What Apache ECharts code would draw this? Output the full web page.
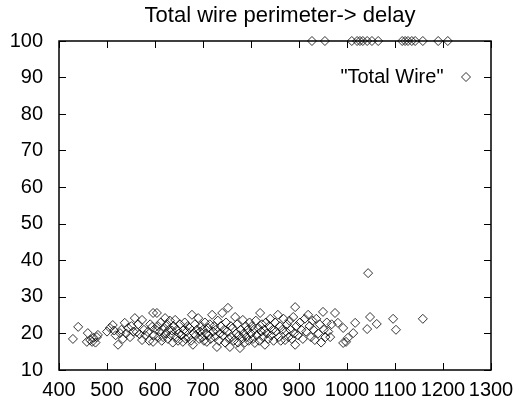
<!DOCTYPE html>
<html><head><meta charset="utf-8">
<script src="https://cdn.jsdelivr.net/npm/echarts@6/dist/echarts.min.js"></script>
<style>html,body{margin:0;padding:0;background:#fff}#c{width:517px;height:402px}</style>
</head><body><div id="c"></div>
<script>
var xTicks = [400,500,600,700,800,900,1000,1100,1200,1300];
var yTicks = [10,20,30,40,50,60,70,80,90,100];
var seriesName = '"Total Wire"';
var wirePerimeter = [
429,440,458,460,465,469,472,479,481,476,
500,506,512,515,518,523,527,530,533,537,540,544,548,551,555,558,562,565,568,573,573,577,580,585,588,590,594,596,596,598,
602,604,606,608,610,612,614,617,619,621,623,625,627,629,631,633,635,637,639,642,644,646,648,650,652,655,658,660,662,664,666,668,670,672,675,677,679,681,683,685,687,690,692,694,696,698,
700,702,704,706,708,710,712,714,716,719,721,723,725,727,729,731,733,735,737,740,742,744,746,748,750,752,754,756,758,760,762,764,767,769,771,773,775,777,779,781,783,785,787,789,791,793,795,797,
800,802,804,806,808,810,812,815,817,819,821,823,825,827,829,831,833,836,838,840,842,845,847,850,852,856,858,860,862,865,868,871,873,875,878,880,882,885,888,890,892,892,895,
898,902,905,908,912,915,919,922,925,928,930,933,936,940,943,946,950,952,955,958,961,965,968,975,981,992,992,998,1002,1013,1017,1042,1048,1062,1044,1096,1102,1158,
927,954,1010,1021,1027,1033,1042,1052,1065,1115,1121,1127,1135,1142,1158,1190,1210
];
var delay = [
18.5,21.8,17.7,20.1,18.2,17.7,18.8,19.0,19.6,17.5,
20.5,21.5,22.3,20.8,19.5,16.9,20.1,21.0,18.5,22.9,20.0,21.5,19.0,22.0,20.5,24.2,20.4,22.5,19.8,23.7,18.2,21.0,19.5,20.4,18.0,22.5,21.8,25.6,17.7,19.5,
21.0,25.6,22.0,19.0,20.5,23.0,18.0,19.0,21.5,24.2,20.0,22.5,18.5,21.0,23.5,19.5,20.8,17.5,22.0,23.7,19.0,21.0,18.0,20.0,22.5,19.5,17.7,21.0,23.0,18.5,20.5,22.0,19.0,21.5,18.0,25.1,16.9,20.0,22.5,19.5,21.0,24.2,18.5,20.5,22.0,19.0,
21.0,18.0,23.0,20.0,17.7,21.5,19.5,22.5,18.5,25.1,20.5,22.0,19.0,21.0,16.3,23.5,18.0,20.0,22.0,25.6,19.5,21.0,17.5,23.0,20.5,27.0,18.5,16.3,22.0,19.0,21.5,18.0,24.5,20.0,22.5,17.5,19.5,16.0,21.0,18.5,23.7,20.0,17.5,22.0,19.0,21.0,18.0,23.0,
20.0,22.0,18.5,21.0,17.4,23.5,19.5,21.5,18.0,25.6,20.5,22.5,19.0,21.0,16.9,23.0,20.0,18.5,22.0,24.0,19.5,21.0,18.0,23.0,20.5,25.1,19.0,22.0,18.0,21.0,24.0,18.2,20.5,22.5,19.0,23.5,21.0,18.5,24.5,20.0,27.2,16.9,22.0,
19.5,23.0,21.0,18.5,24.0,20.5,25.1,22.0,19.0,23.5,21.0,18.2,24.0,20.0,22.5,17.5,25.9,21.0,19.0,23.0,20.5,19.0,22.5,25.6,22.9,17.4,21.5,17.7,18.8,20.1,22.9,21.2,24.5,22.6,36.5,24.0,21.0,24.0,
100,100,100,100,100,100,100,100,100,100,100,100,100,100,100,100,100
];
var points = wirePerimeter.map(function(x,i){return [x, delay[i]];});
var font = 'Liberation Sans, Arial, sans-serif';
var chart = echarts.init(document.getElementById('c'));
var tickStyle = {show:true, inside:true, length:7, lineStyle:{color:'#000', width:1}};
var plain = function(v){ return String(v); };
chart.setOption({
  animation:false,
  backgroundColor:'#fff',
  title:{text:'Total wire perimeter-> delay', left:275, textAlign:'center', top:0,
    textStyle:{fontFamily:font, fontSize:22, fontWeight:'normal', color:'#000'}},
  legend:{right:41, top:62, orient:'vertical', align:'right', itemWidth:9, itemHeight:9,
    data:[{name:seriesName, icon:'diamond', itemStyle:{color:'#fff', borderColor:'#000', borderWidth:1}}],
    textStyle:{fontFamily:font, fontSize:20, color:'#000', padding:[0,13,0,0]}},
  grid:{left:59, right:26, top:41, bottom:32, show:true, borderColor:'#000', borderWidth:1.5},
  xAxis:[{type:'value', min:xTicks[0], max:xTicks[xTicks.length-1], interval:100,
      axisLine:{show:false}, axisTick:tickStyle, splitLine:{show:false},
      axisLabel:{fontFamily:font, fontSize:20, color:'#000', margin:10, formatter:plain, showMinLabel:true, showMaxLabel:true}},
    {type:'value', position:'top', min:xTicks[0], max:xTicks[xTicks.length-1], interval:100,
      axisLine:{show:false}, axisTick:tickStyle, splitLine:{show:false}, axisLabel:{show:false}}],
  yAxis:[{type:'value', min:yTicks[0], max:yTicks[yTicks.length-1], interval:10,
      axisLine:{show:false}, axisTick:tickStyle, splitLine:{show:false},
      axisLabel:{fontFamily:font, fontSize:20, color:'#000', margin:16, formatter:plain}},
    {type:'value', position:'right', min:yTicks[0], max:yTicks[yTicks.length-1], interval:10,
      axisLine:{show:false}, axisTick:tickStyle, splitLine:{show:false}, axisLabel:{show:false}}],
  series:[{name:seriesName, type:'scatter', data:points, symbol:'diamond', symbolSize:9, clip:false,
    itemStyle:{color:'rgba(255,255,255,0)', borderColor:'#000', borderWidth:1}}]
});
</script></body></html>
